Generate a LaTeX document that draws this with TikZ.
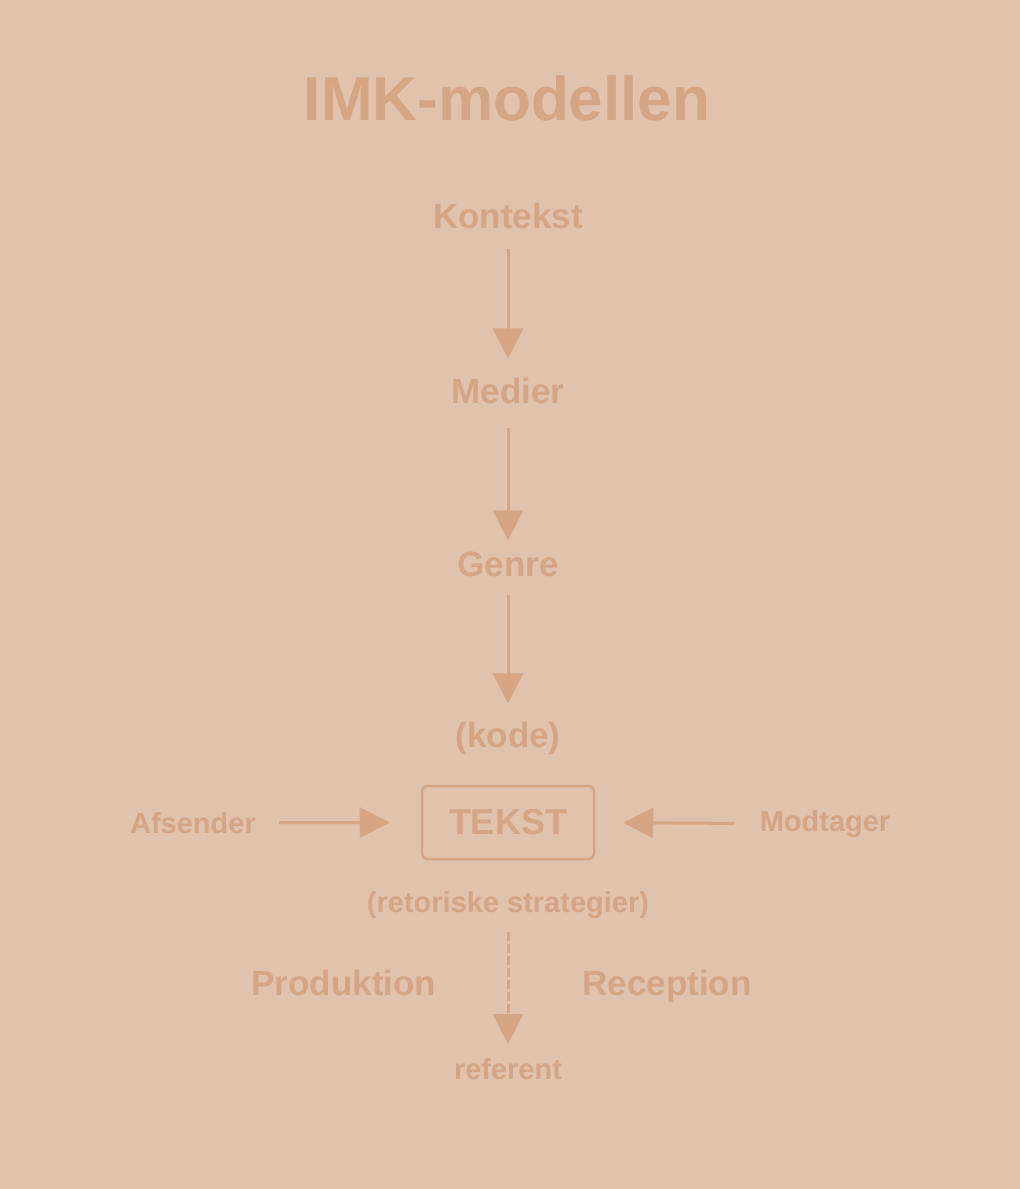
\documentclass[tikz,border=0pt]{standalone}
\usepackage{fontspec}
\setmainfont{Liberation Sans}
\usetikzlibrary{arrows.meta}
\definecolor{sandbg}{HTML}{E0C2AD}
\definecolor{clay}{HTML}{D6A584}
\begin{document}
\begin{tikzpicture}[x=1pt, y=-1pt,
    title/.style={text=clay, inner sep=0pt, anchor=base, font=\fontsize{62}{70}\selectfont\bfseries},
    stage/.style={text=clay, inner sep=0pt, anchor=base, font=\fontsize{35}{42}\selectfont\bfseries},
    small/.style={text=clay, inner sep=0pt, anchor=base, font=\fontsize{29}{35}\selectfont\bfseries},
    flow/.style={draw=clay, line width=3pt, -{Triangle[length=30pt, width=30pt]}},
    flowdash/.style={flow, dash pattern=on 9pt off 3pt}]
% Background
\fill[sandbg] (0,0) rectangle (1020,1189);
\useasboundingbox (0,0) rectangle (1020,1189);

% Title
\node[title] (heading) at (507,120) {IMK-modellen};

% Vertical chain
\node[stage] (kontekst) at (508,228) {Kontekst};
\node[stage] (medier) at (508,403) {Medier};
\node[stage] (genre) at (508,576) {Genre};
\node[stage] (kode) at (508,747) {(kode)};

\draw[flow, shorten <=20pt, shorten >=19pt] (kontekst.south) -- (medier.north);
\draw[flow, shorten <=24pt, shorten >=11pt] (medier.south) -- (genre.north);
\draw[flow, shorten <=18pt, shorten >=18pt] (genre.south) -- (kode.north);

% The text itself
\node[draw=clay, line width=2.5pt, rounded corners=5pt, minimum width=172pt, minimum height=73pt,
    text=clay, font=\fontsize{36}{42}\selectfont\bfseries] (tekst) at (508,822.5) {TEKST};

% Sender and receiver
\node[small] (afsender) at (193,833) {Afsender};
\node[small] (modtager) at (825,831) {Modtager};
\draw[flow, shorten <=23pt, shorten >=31pt] (afsender.east) -- (tekst.west);
\draw[flow, shorten <=25pt, shorten >=28pt] (modtager.west) -- (tekst.east);

% Strategies and referent
\node[small] (strategier) at (508,912) {(retoriske strategier)};
\node[small] (referent) at (508,1079) {referent};
\draw[flowdash, shorten <=14pt, shorten >=14pt] (strategier.south) -- (referent.north);

% Production and reception
\node[stage] (produktion) at (344,995) {Produktion};
\node[stage] (reception) at (667,995) {Reception};
\end{tikzpicture}
\end{document}
